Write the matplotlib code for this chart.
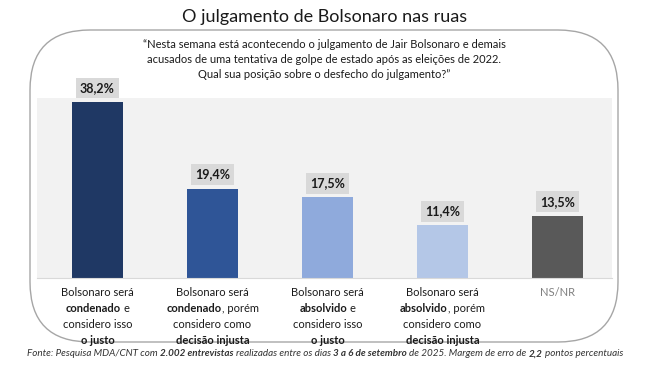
import matplotlib
matplotlib.use("Agg")
import matplotlib.pyplot as plt
from matplotlib.patches import FancyBboxPatch

plt.rcParams['font.family'] = ['Lato', 'DejaVu Sans']

# dados
valores = [38.2, 19.4, 17.5, 11.4, 13.5]
rotulos = ['38,2%', '19,4%', '17,5%', '11,4%', '13,5%']
cores = ['#1f3864', '#2f5597', '#8faadc', '#b4c7e7', '#595959']

# rótulos das categorias: linhas com trechos (texto, negrito)
categorias = [
    [[('Bolsonaro será', False)],
     [('condenado', True), (' e', False)],
     [('considero isso', False)],
     [('o justo', True)]],
    [[('Bolsonaro será', False)],
     [('condenado', True), (', porém', False)],
     [('considero como', False)],
     [('decisão injusta', True)]],
    [[('Bolsonaro será', False)],
     [('absolvido', True), (' e', False)],
     [('considero isso', False)],
     [('o justo', True)]],
    [[('Bolsonaro será', False)],
     [('absolvido', True), (', porém', False)],
     [('considero como', False)],
     [('decisão injusta', True)]],
    [[('NS/NR', False)]],
]

titulo = 'O julgamento de Bolsonaro nas ruas'
pergunta = ['\u201cNesta semana está acontecendo o julgamento de Jair Bolsonaro e demais',
            'acusados de uma tentativa de golpe de estado após as eleições de 2022.',
            'Qual sua posição sobre o desfecho do julgamento?\u201d']
fonte = [('Fonte: Pesquisa MDA/CNT com ', False), ('2.002 entrevistas', True),
         (' realizadas entre os dias ', False), ('3 a 6 de setembro', True),
         (' de 2025. Margem de erro de ', False), ('2,2', True),
         (' pontos percentuais', False)]

W, H = 650, 365
fig = plt.figure(figsize=(6.5, 3.65), dpi=100)
fig.patch.set_facecolor('white')


def fx(px):
    return px / W


def fy(py):
    return 1 - py / H


# caixa arredondada
caixa = FancyBboxPatch((0.30, 0.23), 5.88, 3.12,
                       boxstyle='round,pad=0,rounding_size=0.6',
                       transform=fig.dpi_scale_trans, facecolor='white',
                       edgecolor='#a6a6a6', linewidth=1.0, zorder=-2)
fig.add_artist(caixa)

ax = fig.add_axes([fx(37), fy(278), fx(612) - fx(37), fy(98) - fy(278)])
ax.set_facecolor('#f2f2f2')
x = list(range(len(valores)))
ax.bar(x, valores, width=0.443, color=cores, zorder=2)
ax.set_xlim(-0.526, 4.474)
ax.set_ylim(0, 39.05)
for s in ax.spines.values():
    s.set_visible(False)
ax.spines['bottom'].set_visible(True)
ax.spines['bottom'].set_color('#d9d9d9')
ax.set_xticks([])
ax.set_yticks([])

for xi, v, r in zip(x, valores, rotulos):
    ax.annotate(r, (xi, v), xytext=(0, 14), textcoords='offset pixels',
                ha='center', va='center', fontsize=9, fontweight='bold',
                color='#1a1a1a',
                bbox=dict(boxstyle='square,pad=0.35', facecolor='#d9d9d9',
                          edgecolor='none'))

fig.text(0.5, fy(17), titulo, ha='center', va='center', fontsize=13, color='#1a1a1a')
for i, linha in enumerate(pergunta):
    fig.text(fx(324), fy(45 + i * 14.5), linha, ha='center', va='center',
             fontsize=8, color='#1a1a1a')

renderer = fig.canvas.get_renderer()


def largura(txt, **kw):
    t = fig.text(0, 0, txt, **kw)
    w = t.get_window_extent(renderer).width
    t.remove()
    return w


def linha_rica(cx, cy, trechos, fontsize, color, style='normal'):
    pecas = []
    total = 0
    for txt, neg in trechos:
        kw = dict(fontsize=fontsize, fontweight='bold' if neg else 'normal',
                  fontstyle=style)
        esp = 0
        if txt.startswith(' '):
            esp = largura('x x', **kw) - largura('xx', **kw)
        fim = 0
        if txt.endswith(' '):
            fim = largura('x x', **kw) - largura('xx', **kw)
        core = txt.strip()
        w = largura(core, **kw)
        pecas.append((core, kw, esp, w, fim))
        total += esp + w + fim
    xpos = cx - total / 2
    for core, kw, esp, w, fim in pecas:
        xpos += esp
        fig.text(xpos / W, 1 - cy / H, core, ha='left', va='center',
                 color=color, **kw)
        xpos += w + fim


for xi, linhas in zip(x, categorias):
    cx = ax.transData.transform((xi, 0))[0]
    cor = '#7f7f7f' if len(linhas) == 1 else '#1a1a1a'
    for j, linha in enumerate(linhas):
        linha_rica(cx, 293 + j * 16, linha, 8, cor)

linha_rica(325, 354, fonte, 7.1, '#333333', style='italic')

fig.savefig('out.png', dpi=100)
